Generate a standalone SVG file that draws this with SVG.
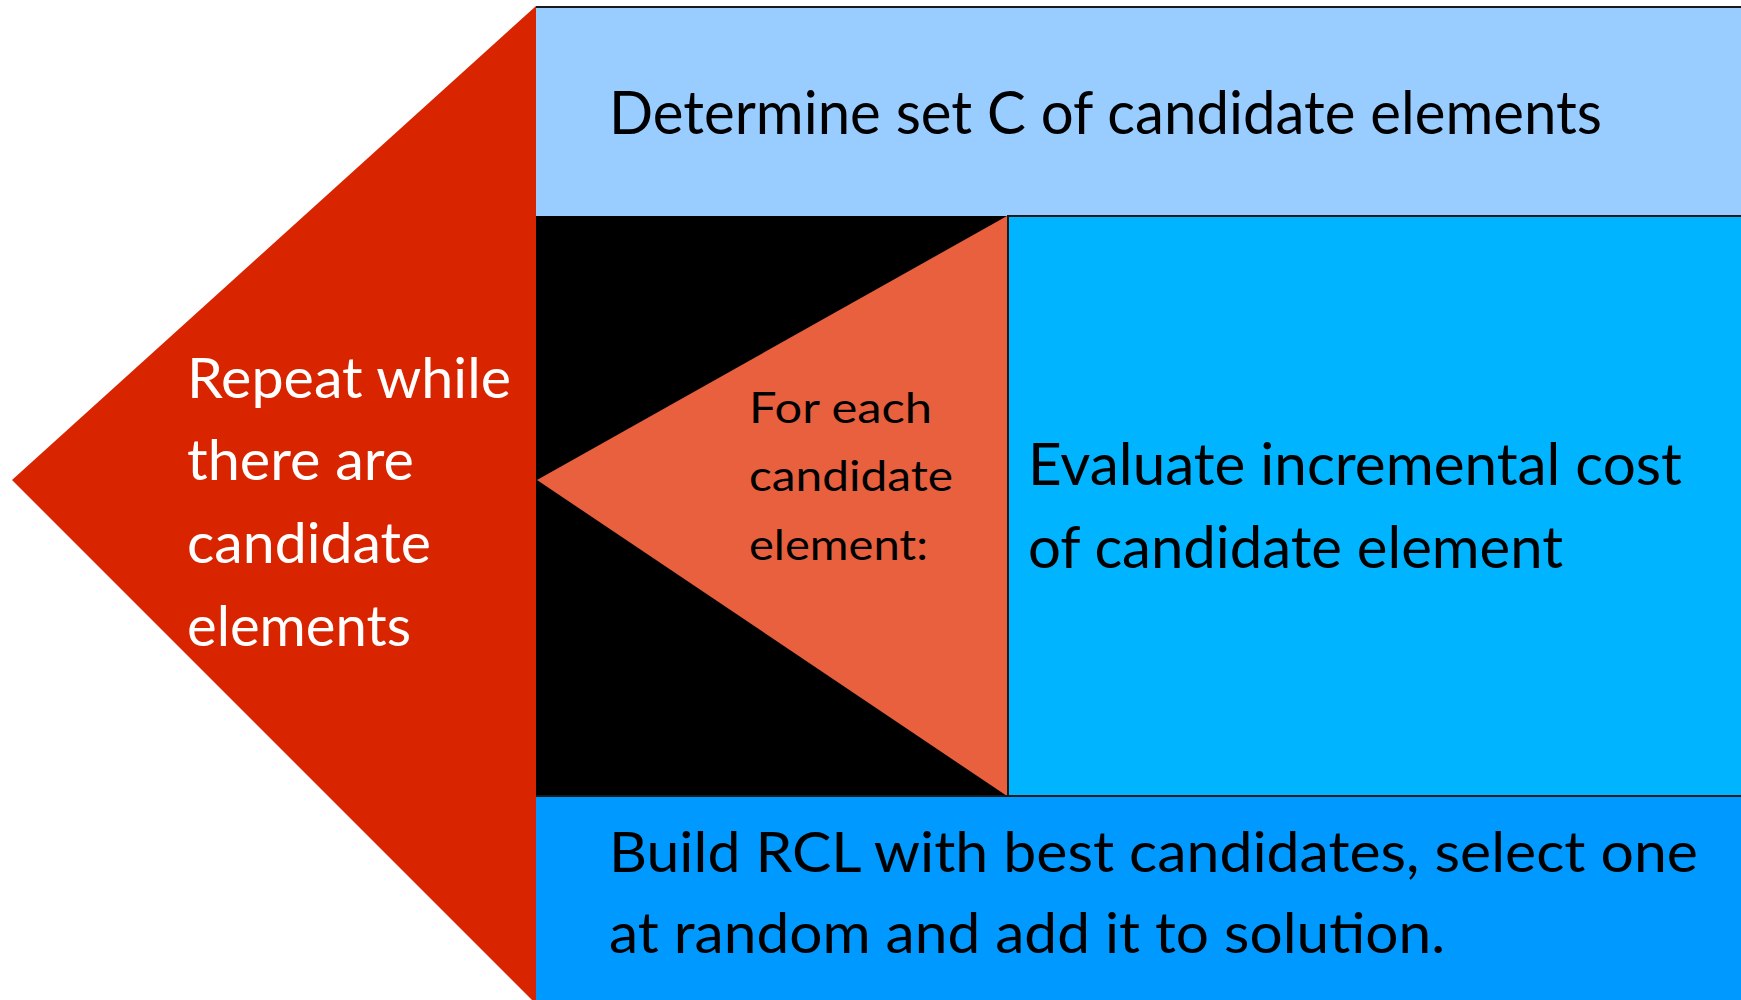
<svg xmlns="http://www.w3.org/2000/svg" width="1741" height="1000" viewBox="0 0 1741 1000">
  <style>
    .t { font-family: Lato, "Open Sans", "Liberation Sans", sans-serif; }
    .dark { fill: #000000; }
    .light { fill: #ffffff; }
    .edge { stroke: #1a1a1a; stroke-width: 2; }
  </style>
  <rect width="1741" height="1000" fill="#ffffff"/>

  <!-- outer loop arrowhead -->
  <g id="repeat-loop">
    <polygon points="536,6 12,480 536,1004" fill="#d92400"/>
    <text class="t light" font-size="56">
      <tspan x="187" y="398" textLength="324" lengthAdjust="spacingAndGlyphs">Repeat while</tspan>
      <tspan x="187" y="480" textLength="227" lengthAdjust="spacingAndGlyphs">there are</tspan>
      <tspan x="187" y="563" textLength="244" lengthAdjust="spacingAndGlyphs">candidate</tspan>
      <tspan x="187" y="646" textLength="224" lengthAdjust="spacingAndGlyphs">elements</tspan>
    </text>
  </g>

  <!-- step 1 -->
  <g id="determine-set">
    <rect x="536" y="6" width="1206" height="210" fill="#99ccff"/>
    <line x1="536" y1="7" x2="1741" y2="7" class="edge"/>
    <text class="t dark" x="609" y="134" font-size="60" textLength="993" lengthAdjust="spacingAndGlyphs">Determine set C of candidate elements</text>
  </g>

  <!-- inner loop -->
  <g id="for-each">
    <rect x="536" y="216" width="472" height="580" fill="#000000"/>
    <polygon points="1007,216 537,480 1007,796" fill="#e9603f"/>
    <text class="t dark" font-size="42">
      <tspan x="749" y="423" textLength="183" lengthAdjust="spacingAndGlyphs">For each</tspan>
      <tspan x="749" y="491" textLength="204" lengthAdjust="spacingAndGlyphs">candidate</tspan>
      <tspan x="749" y="560" textLength="179" lengthAdjust="spacingAndGlyphs">element:</tspan>
    </text>
  </g>

  <g id="evaluate-cost">
    <rect x="1008" y="216" width="734" height="580" fill="#00b4ff" class="edge"/>
    <text class="t dark" font-size="58">
      <tspan x="1028" y="485" textLength="654" lengthAdjust="spacingAndGlyphs">Evaluate incremental cost</tspan>
      <tspan x="1028" y="568" textLength="535" lengthAdjust="spacingAndGlyphs">of candidate element</tspan>
    </text>
  </g>

  <!-- step 3 -->
  <g id="build-rcl">
    <rect x="536" y="796" width="1206" height="205" fill="#0099ff"/>
    <line x1="536" y1="796" x2="1741" y2="796" class="edge"/>
    <text class="t dark" font-size="56">
      <tspan x="609" y="872" textLength="1089" lengthAdjust="spacingAndGlyphs">Build RCL with best candidates, select one</tspan>
      <tspan x="609" y="953" textLength="836" lengthAdjust="spacingAndGlyphs">at random and add it to solution.</tspan>
    </text>
  </g>

  <g id="connectors"></g>
</svg>
